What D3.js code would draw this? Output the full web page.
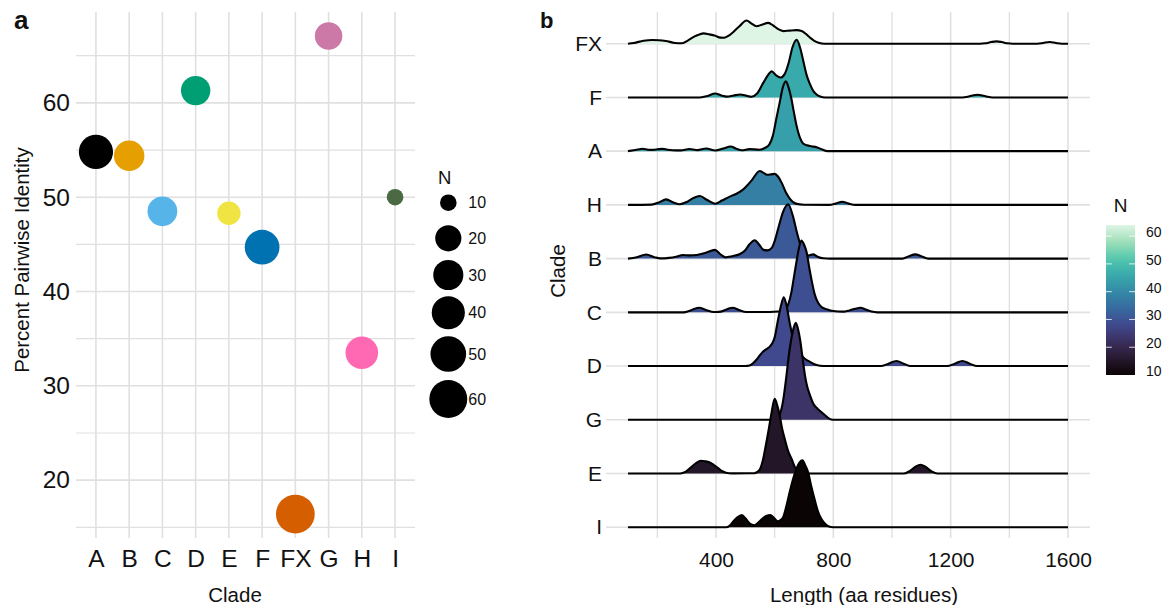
<!DOCTYPE html>
<html>
<head>
<meta charset="utf-8">
<script src="https://cdn.jsdelivr.net/npm/d3@7"></script>
<style>
  body { margin: 0; background: #ffffff; }
  svg text { font-family: "Liberation Sans", Arial, Helvetica, sans-serif; fill: #111111; }
</style>
</head>
<body>
<svg id="fig" width="1165" height="605"></svg>
<script>
// ---------------- data ----------------
// Clades in the order of panel a's x axis
const clades = ["A", "B", "C", "D", "E", "F", "FX", "G", "H", "I"];
// Mean percent pairwise identity within each clade
const identity = [54.8, 54.4, 48.5, 61.3, 48.3, 44.7, 16.4, 67.1, 33.5, 50.0];
// Number of sequences in each clade
const cladeN = [44, 31, 29, 28, 15, 46, 64, 23, 38, 10];
// Point colour of each clade
const cladeColors = ["#000000", "#E69F00", "#56B4E9", "#009E73", "#F0E442",
                     "#0072B2", "#D55E00", "#CC79A7", "#FF69B4", "#4B6A43"];
const identityTicks = [20, 30, 40, 50, 60];
const sizeBreaks = [10, 20, 30, 40, 50, 60];

// Panel b: ridge order from bottom to top
const ridgeOrder = ["I", "E", "G", "D", "C", "B", "H", "A", "F", "FX"];
const lengthTicks = [400, 800, 1200, 1600];
const lengthGrid = [200, 400, 600, 800, 1000, 1200, 1400, 1600];
const colorBreaks = [10, 20, 30, 40, 50, 60];
// mako palette
const makoStops = ["#0B0405", "#28192F", "#3B2F5E", "#40498E", "#366A9F",
                   "#348AA6", "#38AAAC", "#54C9AD", "#A0DFB9", "#DEF5E5"];

// Length density of each clade: [length (aa), density as % of the tallest ridge]
const densityFX = [[100,0],[120,0.8],[153,3],[183,3.8],[205,3.6],[229,2.8],[260,0.8],[284,0.5],[305,3.5],[324,7],[343,9.5],[358,10.6],[377,9.6],[395,8.5],[415,6.3],[428,6.2],[442,8],[460,12.4],[480,18],[504,24],[520,21],[538,18],[556,19.5],[578,21.5],[596,18.5],[612,15],[630,13],[650,13.5],[675,14],[692,13.2],[707,10],[721,6.2],[735,3],[750,1],[770,0],[1300,0],[1318,0.4],[1338,1.7],[1356,2.4],[1374,1.7],[1394,0.4],[1412,0],[1495,0],[1515,0.7],[1537,1.8],[1559,0.7],[1579,0],[1600,0]];
const densityF = [[100,0],[345,0],[372,1.5],[397,4.1],[418,2],[437,0.8],[460,2],[482,3],[505,1.6],[521,0.7],[540,4],[561,15],[576,22.5],[590,27],[604,23],[620,20.5],[634,24],[648,36],[661,52],[675,59.5],[687,51],[698,37],[709,23],[720,14],[732,6.5],[743,3],[755,1],[772,0],[1240,0],[1258,0.7],[1275,2],[1292,2.8],[1308,2],[1325,0.7],[1342,0],[1600,0]];
const densityA = [[100,0],[125,1.2],[150,2.5],[168,1.5],[185,1.3],[202,2],[218,2.4],[235,1.5],[252,1],[280,0.8],[309,2.2],[337,1.1],[366,2.8],[398,0.7],[425,2.8],[450,4.8],[470,2.4],[488,1],[514,2.1],[548,1.5],[568,3.5],[582,7],[594,16],[606,34],[617,50],[628,66],[638,72],[648,65],[657,54],[665,41],[674,27],[686,14],[697,8],[710,6],[725,5],[743,4],[760,2],[780,0],[1600,0]];
const densityH = [[100,0],[180,0.3],[205,2.5],[230,5.7],[255,2.5],[277,0.7],[300,3],[322,7],[345,9.2],[370,5],[397,1.2],[420,4.5],[447,8.5],[470,11.5],[493,16],[521,25],[549,35],[562,33],[574,31],[588,31.5],[600,32],[612,29],[624,22.7],[638,13],[652,6.3],[672,1.3],[700,0.2],[785,0],[808,1.3],[830,3.1],[852,1.3],[875,0],[1600,0]];
const densityB = [[100,0],[130,1.5],[162,4.3],[190,1.5],[210,0.2],[240,0.8],[264,2],[287,3.7],[310,3.3],[334,3.8],[365,6],[396,9],[415,4.5],[433,1.3],[455,2.5],[480,4.5],[498,8],[515,15],[532,19],[548,14],[562,9],[576,8.5],[590,11],[601,19],[612,31],[629,48.5],[646,56],[663,43],[675,28],[687,15],[700,5],[710,3.1],[720,3.5],[731,4.4],[746,2],[766,0.3],[790,0],[1035,0],[1058,2.5],[1079,4.4],[1100,2.5],[1123,0],[1600,0]];
const densityC = [[100,0],[290,0],[305,1],[320,2.8],[343,4.8],[365,2.5],[385,0.6],[400,0.3],[420,1],[440,3.5],[457,4.8],[478,2.5],[503,0.3],[583,0.3],[610,0.8],[634,2.1],[646,8],[657,20.6],[665,35],[674,51.5],[682,65],[691,74],[700,70],[709,61.9],[718,46],[726,33],[737,18],[749,9.3],[763,4.8],[777,3.1],[800,1.3],[834,0.7],[855,2],[875,3.8],[893,4.8],[910,3],[930,0.8],[950,0],[1600,0]];
const densityD = [[100,0],[500,0],[514,0.5],[525,2.5],[537,6.2],[548,10.5],[560,14.7],[572,17.5],[583,20],[592,23.5],[600,29.6],[611,47],[623,64],[631,71],[640,63],[651,45],[663,28],[675,18.5],[691,11.3],[705,7],[720,4.4],[743,1],[766,0],[962,0],[988,2.5],[1015,5.2],[1040,2.5],[1063,0],[1188,0],[1214,2.5],[1240,5.2],[1265,2.5],[1290,0],[1600,0]];
const densityG = [[100,0],[590,0],[606,1],[617,5],[629,20],[640,45],[648,66],[656,82],[664,94],[672,100],[680,93],[687,82],[695,64],[703,46.4],[712,33],[720,25.8],[731,17],[743,12.4],[755,9],[766,6.2],[778,3],[790,0.6],[805,0],[1600,0]];
const densityE = [[100,0],[270,0],[286,0.6],[300,2.5],[314,6.2],[331,10.5],[349,13.1],[363,12.6],[377,11.6],[392,9],[406,5.9],[420,2.6],[434,0.8],[455,0.2],[530,0.3],[549,4.1],[560,14],[571,31],[580,46],[589,62],[600,77],[609,70],[617,60],[625,47],[634,36],[645,24],[657,15.5],[674,4.1],[697,0.5],[720,0],[1040,0],[1060,2.5],[1080,7],[1097,9],[1114,7],[1134,2.5],[1155,0],[1600,0]];
const densityI = [[100,0],[434,0],[446,1.5],[457,5.2],[472,10],[488,12.7],[501,9],[514,4.1],[531,2.1],[545,5],[560,9.3],[573,12],[585,12.7],[598,9.5],[611,6.2],[620,7.5],[629,10.5],[640,22],[651,36],[662,49],[674,60],[685,67],[695,69],[704,64],[714,56.7],[725,42],[737,27.8],[748,16],[760,8.2],[772,3.5],[783,1],[800,0],[1600,0]];

const densityByClade = {
  FX: densityFX, F: densityF, A: densityA, H: densityH, B: densityB,
  C: densityC, D: densityD, G: densityG, E: densityE, I: densityI
};
const nByClade = Object.fromEntries(clades.map((c, i) => [c, cladeN[i]]));

// ---------------- shared styling ----------------
const svg = d3.select("#fig");
const gridMajor = "#e0e0e0";
const textColor = "#111111";

const nExtent = d3.extent(cladeN);
const mako = d3.piecewise(d3.interpolateRgb, makoStops);
const fillScale = d3.scaleSequential(mako).domain(nExtent);

// ---------------- panel a: identity vs clade ----------------
const aLeft = 76, aRight = 415, aTop = 12, aBottom = 538;
const aX = d3.scalePoint().domain(clades).range([aLeft, aRight]).padding(0.6);
const idExt = d3.extent(identity);
const idPad = (idExt[1] - idExt[0]) * 0.05;
const aY = d3.scaleLinear().domain([idExt[0] - idPad, idExt[1] + idPad]).range([aBottom, aTop]);
const rScale = d3.scaleSqrt().domain([0, nExtent[1] - nExtent[0]]).range([8.3, 19.4]);
const radius = n => rScale(n - nExtent[0]);

const pa = svg.append("g").attr("class", "panel-a");
const aMinor = d3.range(15, 70, 10).filter(v => v > aY.domain()[0] && v < aY.domain()[1]);
pa.append("g").selectAll("line").data(aMinor).join("line")
  .attr("x1", aLeft).attr("x2", aRight)
  .attr("y1", d => aY(d)).attr("y2", d => aY(d))
  .attr("stroke", gridMajor).attr("stroke-width", 1.2);
pa.append("g").selectAll("line").data(identityTicks).join("line")
  .attr("x1", aLeft).attr("x2", aRight)
  .attr("y1", d => aY(d)).attr("y2", d => aY(d))
  .attr("stroke", gridMajor).attr("stroke-width", 1.6);
pa.append("g").selectAll("line").data(clades).join("line")
  .attr("x1", d => aX(d)).attr("x2", d => aX(d))
  .attr("y1", aTop).attr("y2", aBottom)
  .attr("stroke", gridMajor).attr("stroke-width", 1.6);

// axes
const aAxisL = pa.append("g").attr("transform", `translate(${aLeft},0)`)
  .call(d3.axisLeft(aY).tickValues(identityTicks).tickSize(0).tickPadding(6));
const aAxisB = pa.append("g").attr("transform", `translate(0,${aBottom})`)
  .call(d3.axisBottom(aX).tickSize(0).tickPadding(12));
[aAxisL, aAxisB].forEach(g => {
  g.select(".domain").remove();
  g.selectAll("text").attr("font-size", 24.5).attr("fill", textColor)
    .style("font-family", "'Liberation Sans', Arial, sans-serif");
});

// points
pa.append("g").selectAll("circle")
  .data(clades.map((c, i) => ({ clade: c, id: identity[i], n: cladeN[i], color: cladeColors[i] })))
  .join("circle")
  .attr("cx", d => aX(d.clade)).attr("cy", d => aY(d.id))
  .attr("r", d => radius(d.n)).attr("fill", d => d.color);

// titles
pa.append("text").attr("transform", "translate(22,260) rotate(-90)")
  .attr("text-anchor", "middle").attr("dy", "0.35em").attr("font-size", 20.5)
  .text("Percent Pairwise Identity");
pa.append("text").attr("x", 235).attr("y", 602).attr("text-anchor", "middle")
  .attr("font-size", 20.5).text("Clade");
pa.append("text").attr("x", 14).attr("y", 29).attr("font-size", 26)
  .attr("font-weight", "bold").text("a");

// size legend
const sizeKeyY = [202.7, 238.3, 275, 312.7, 354, 399];
const leg = pa.append("g").attr("class", "size-legend");
leg.append("text").attr("x", 438).attr("y", 178).attr("dy", "0.35em")
  .attr("font-size", 18.5).text("N");
const keys = leg.selectAll("g").data(sizeBreaks).join("g")
  .attr("transform", (d, i) => `translate(448.3,${sizeKeyY[i]})`);
keys.append("circle").attr("r", d => radius(d)).attr("fill", "#000");
keys.append("text").attr("x", 20).attr("dy", "0.35em").attr("font-size", 16).text(d => d);

// ---------------- panel b: length ridgelines ----------------
const bLeft = 606, bRight = 1090, bTop = 12, bBottom = 538;
const lenExt = [d3.min(Object.values(densityByClade), s => s[0][0]),
                d3.max(Object.values(densityByClade), s => s[s.length - 1][0])];
const lenPad = (lenExt[1] - lenExt[0]) * 0.05;
const bX = d3.scaleLinear().domain([lenExt[0] - lenPad, lenExt[1] + lenPad]).range([bLeft, bRight]);
const bY = d3.scaleLinear().domain([-0.2, ridgeOrder.length - 1 + 0.59]).range([bBottom, bTop]);
const rowStep = bY(0) - bY(1);
const ridgeScale = 1.805;   // tallest ridge spans this many rows

const pb = svg.append("g").attr("class", "panel-b");
pb.append("g").selectAll("line").data(lengthGrid).join("line")
  .attr("x1", d => bX(d)).attr("x2", d => bX(d))
  .attr("y1", bTop).attr("y2", bBottom)
  .attr("stroke", gridMajor).attr("stroke-width", d => lengthTicks.includes(d) ? 1.6 : 1.3);
pb.append("g").selectAll("line").data(ridgeOrder).join("line")
  .attr("x1", bLeft).attr("x2", bRight)
  .attr("y1", (d, i) => bY(i)).attr("y2", (d, i) => bY(i))
  .attr("stroke", gridMajor).attr("stroke-width", 1.6);

// ridges are drawn from the top row down so lower ridges overlap the ones above
const ridges = ridgeOrder.map((c, i) => ({ clade: c, row: i, pts: densityByClade[c], n: nByClade[c] })).reverse();
const ridgeG = pb.append("g");
ridges.forEach(r => {
  const base = bY(r.row);
  const yOf = d => base - d[1] / 100 * ridgeScale * rowStep;
  const area = d3.area().x(d => bX(d[0])).y0(base).y1(yOf).curve(d3.curveMonotoneX);
  const line = d3.line().x(d => bX(d[0])).y(yOf).curve(d3.curveMonotoneX);
  const g = ridgeG.append("g");
  g.append("path").datum(r.pts).attr("d", area).attr("fill", fillScale(r.n));
  g.append("path").datum(r.pts).attr("d", line).attr("fill", "none")
    .attr("stroke", "#000").attr("stroke-width", 2.1).attr("stroke-linejoin", "round");
});

// axes
const bAxisL = pb.append("g").attr("transform", `translate(${bLeft},0)`)
  .call(d3.axisLeft(d3.scalePoint().domain(ridgeOrder).range([bY(0), bY(ridgeOrder.length - 1)]))
        .tickSize(0).tickPadding(4));
const bAxisB = pb.append("g").attr("transform", `translate(0,${bBottom})`)
  .call(d3.axisBottom(bX).tickValues(lengthTicks).tickFormat(d3.format("d"))
        .tickSize(0).tickPadding(14));
[bAxisL, bAxisB].forEach(g => {
  g.select(".domain").remove();
  g.selectAll("text").attr("font-size", 21).attr("fill", textColor)
    .style("font-family", "'Liberation Sans', Arial, sans-serif");
});

pb.append("text").attr("x", 864).attr("y", 602).attr("text-anchor", "middle")
  .attr("font-size", 20.5).text("Length (aa residues)");
pb.append("text").attr("transform", "translate(558,271) rotate(-90)")
  .attr("text-anchor", "middle").attr("dy", "0.35em").attr("font-size", 20.5).text("Clade");
pb.append("text").attr("x", 540).attr("y", 28).attr("font-size", 22)
  .attr("font-weight", "bold").text("b");

// colour bar legend
const barX = 1106, barW = 29;
const barY = d3.scaleLinear().domain(nExtent).range([375, 225]);
const defs = svg.append("defs");
const grad = defs.append("linearGradient").attr("id", "makoBar")
  .attr("x1", 0).attr("y1", 1).attr("x2", 0).attr("y2", 0);
d3.range(0, 1.0001, 0.05).forEach(t => {
  grad.append("stop").attr("offset", t).attr("stop-color", mako(t));
});
const cb = pb.append("g").attr("class", "colorbar");
cb.append("rect").attr("x", barX).attr("y", barY(nExtent[1]))
  .attr("width", barW).attr("height", barY(nExtent[0]) - barY(nExtent[1]))
  .attr("fill", "url(#makoBar)");
const cbTicks = colorBreaks.filter(v => v > nExtent[0]);
cb.selectAll("line.l").data(cbTicks).join("line").attr("class", "l")
  .attr("x1", barX).attr("x2", barX + 5.8)
  .attr("y1", d => barY(d)).attr("y2", d => barY(d))
  .attr("stroke", "#ffffff").attr("stroke-opacity", 0.8).attr("stroke-width", 1);
cb.selectAll("line.r").data(cbTicks).join("line").attr("class", "r")
  .attr("x1", barX + barW - 5.8).attr("x2", barX + barW)
  .attr("y1", d => barY(d)).attr("y2", d => barY(d))
  .attr("stroke", "#ffffff").attr("stroke-opacity", 0.8).attr("stroke-width", 1);
cb.selectAll("text.lab").data(colorBreaks).join("text").attr("class", "lab")
  .attr("x", 1146).attr("y", d => barY(d) - 4).attr("dy", "0.35em")
  .attr("font-size", 14).text(d => d);
cb.append("text").attr("x", barX + barW / 2).attr("y", 205).attr("dy", "0.35em")
  .attr("text-anchor", "middle").attr("font-size", 19).text("N");
</script>
</body>
</html>
